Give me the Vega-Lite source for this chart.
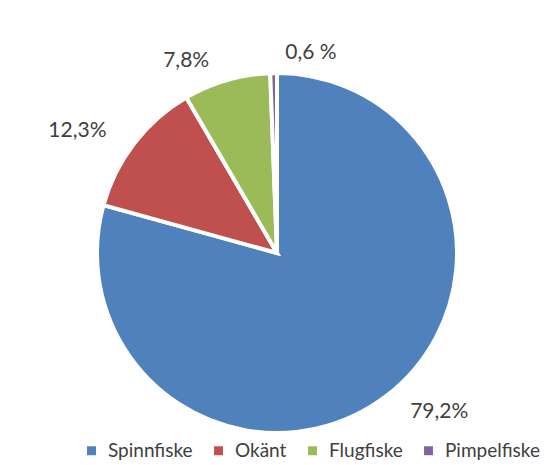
{
  "$schema": "https://vega.github.io/schema/vega-lite/v6.json",
  "width": 554,
  "height": 430,
  "autosize": "none",
  "padding": {"top": 38, "left": 0, "right": 0, "bottom": 0},
  "background": "white",
  "data": {"values": [
    {"nr": 1, "kategori": "Spinnfiske", "andel": 79.2, "etikett": "79,2%"},
    {"nr": 2, "kategori": "Okänt", "andel": 12.3, "etikett": "12,3%"},
    {"nr": 3, "kategori": "Flugfiske", "andel": 7.8, "etikett": "7,8%"},
    {"nr": 4, "kategori": "Pimpelfiske", "andel": 0.6, "etikett": "0,6 %"}
  ]},
  "encoding": {
    "theta": {"field": "andel", "type": "quantitative", "stack": true},
    "order": {"field": "nr", "type": "quantitative"}
  },
  "layer": [
    {
      "mark": {"type": "arc", "outerRadius": 180, "stroke": "white", "strokeWidth": 4},
      "encoding": {
        "color": {
          "field": "kategori", "type": "nominal",
          "scale": {"domain": ["Spinnfiske", "Okänt", "Flugfiske", "Pimpelfiske"],
                    "range": ["#4F81BD", "#C0504D", "#9BBB59", "#8064A2"]},
          "legend": {
            "title": null, "orient": "none", "direction": "horizontal",
            "legendX": 82, "legendY": 403,
            "symbolType": "square", "symbolSize": 80, "symbolStrokeWidth": 0,
            "labelFont": "Lato", "labelFontSize": 19, "labelColor": "#404040",
            "columnPadding": 16, "labelOffset": 7
          }
        }
      }
    },
    {
      "mark": {"type": "text", "radius": 200, "align": "right", "dx": -12, "font": "Lato", "fontSize": 21, "fill": "#404040"},
      "encoding": {
        "text": {"field": "etikett", "type": "nominal"},
        "opacity": {"condition": {"test": "datum.nr == 2 || datum.nr == 3", "value": 1}, "value": 0}
      }
    },
    {
      "mark": {"type": "text", "radius": 200, "align": "left", "dx": 12, "font": "Lato", "fontSize": 21, "fill": "#404040"},
      "encoding": {
        "text": {"field": "etikett", "type": "nominal"},
        "opacity": {"condition": {"test": "datum.nr == 1 || datum.nr == 4", "value": 1}, "value": 0}
      }
    }
  ]
}
